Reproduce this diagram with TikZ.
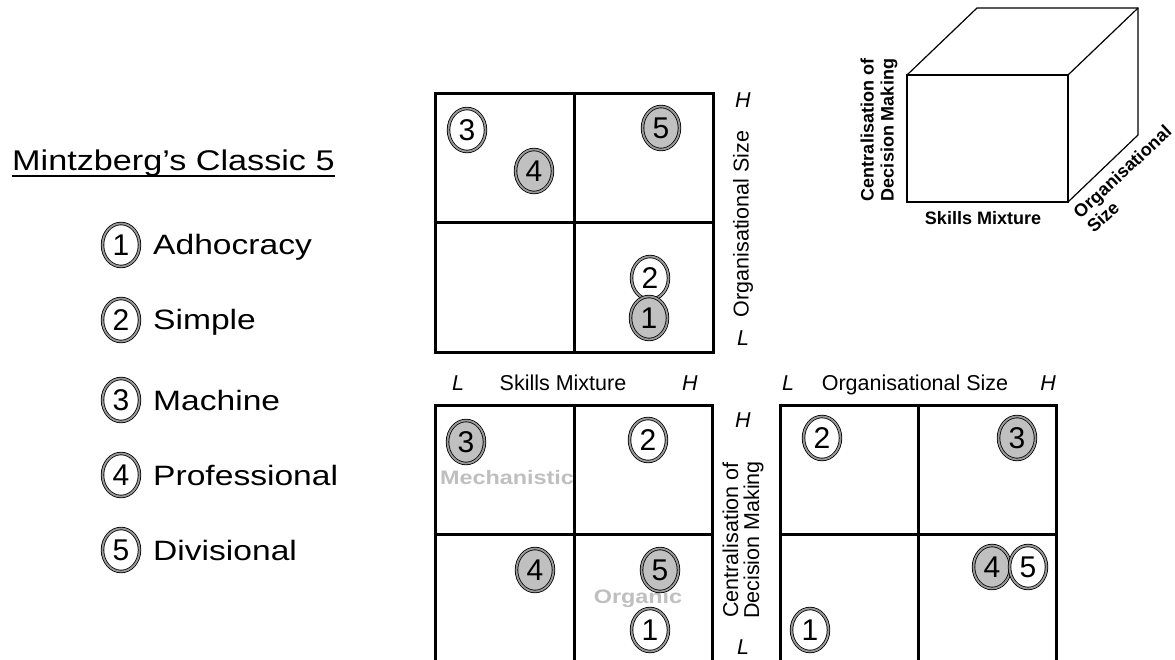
\documentclass[tikz,border=0pt]{standalone}
\usepackage{fontspec}
\setmainfont{Liberation Sans}
\newfontfamily\widefont[FakeStretch=1.2]{Liberation Sans}
\usetikzlibrary{shapes.geometric}
\definecolor{silver}{RGB}{192,192,192}
\tikzset{
 mk/.style={ellipse, draw=black, line width=0.8pt, double=black!40, double distance=1.8pt,
   minimum width=37pt, minimum height=43pt, inner sep=0pt, fill=white,
   font=\fontsize{30}{31}\selectfont},
 mkg/.style={mk, fill=silver},
 gridline/.style={line width=3pt},
 axis/.style={font=\fontsize{21.5}{21}\selectfont, inner sep=0pt, align=center},
 hl/.style={font=\fontsize{21.5}{21}\selectfont\itshape, inner sep=0pt},
 cube/.style={line width=1.2pt},
 cubelab/.style={font=\fontsize{18}{20}\selectfont\bfseries, inner sep=0pt},
 leg/.style={font=\widefont\fontsize{28}{30}\selectfont, anchor=base west, inner sep=0pt},
 emb/.style={font=\widefont\fontsize{19.5}{20}\selectfont\bfseries, text=black!25, inner sep=0pt}
}
\begin{document}
\begin{tikzpicture}[x=1pt,y=-1pt]
\useasboundingbox (0,0) rectangle (1175,660);
\clip (0,0) rectangle (1175,660);
\fill[white] (0,0) rectangle (1175,660);

% title and legend
\node[anchor=base west, inner sep=0pt, font=\widefont\fontsize{28.5}{30}\selectfont] (title) at (12,171) {Mintzberg’s Classic 5};
\draw[line width=1.3pt] ([yshift=-5pt]title.base west) -- ([yshift=-5pt]title.base east);
\node[mk] (l1) at (121,245) {1}; \node[leg] (lt1) at (153,255) {Adhocracy};
\node[mk] (l2) at (121,320) {2}; \node[leg] (lt2) at (153,330) {Simple};
\node[mk] (l3) at (121,400) {3}; \node[leg] (lt3) at (153,410) {Machine};
\node[mk] (l4) at (121,475) {4}; \node[leg] (lt4) at (153,485) {Professional};
\node[mk] (l5) at (121,550) {5}; \node[leg] (lt5) at (153,560) {Divisional};

% top grid
\draw[gridline] (435,94) rectangle (713,352);
\draw[gridline] (574,94) -- (574,352);
\draw[gridline] (435,223) -- (713,223);
\node[mk]  (t3) at (467,130) {3};
\node[mkg] (t4) at (534,171) {4};
\node[mkg] (t5) at (661,128) {5};
\node[mk]  (t2) at (650,278) {2};
\node[mkg] (t1) at (649,318) {1};
\node[hl] (tH) at (743,100) {H};
\node[axis, rotate=90] (tax) at (743,224) {Organisational Size};
\node[hl] (tL) at (743,338) {L};

% axis labels between grids
\node[hl, anchor=base] (sL) at (458,390) {L};
\node[axis, anchor=base] (sx) at (563,390) {Skills Mixture};
\node[hl, anchor=base] (sH) at (690,390) {H};
\node[hl, anchor=base] (oL) at (788,390) {L};
\node[axis, anchor=base] (ox) at (915,390) {Organisational Size};
\node[hl, anchor=base] (oH) at (1048,390) {H};

% bottom left grid
\draw[gridline] (435,405) rectangle (712,680);
\draw[gridline] (574,405) -- (574,680);
\draw[gridline] (435,534) -- (712,534);
\node[emb] (mech) at (507,478) {Mechanistic};
\node[emb] (org) at (638,598) {Organic};
\node[mkg] (b3) at (466,442) {3};
\node[mk]  (b2) at (648,440) {2};
\node[mkg] (b4) at (535,570) {4};
\node[mkg] (b5) at (660,570) {5};
\node[mk]  (b1) at (650,630) {1};
\node[hl] (cH) at (743,420) {H};
\node[axis, rotate=90] (cax) at (743,540) {Centralisation of\\Decision Making};
\node[hl] (cL) at (743,647) {L};

% bottom right grid
\draw[gridline] (780,405) rectangle (1056,680);
\draw[gridline] (918,405) -- (918,680);
\draw[gridline] (780,534) -- (1056,534);
\node[mk]  (r2) at (822,438) {2};
\node[mkg] (r3) at (1017,438) {3};
\node[mkg] (r4) at (992,567) {4};
\node[mk]  (r5) at (1028,567) {5};
\node[mk]  (r1) at (810,630) {1};

% cube
\coordinate (fa) at (907,75);
\coordinate (fb) at (1068,75);
\coordinate (fc) at (1068,202);
\coordinate (fd) at (907,202);
\coordinate (ba) at (977,8);
\coordinate (bb) at (1138,8);
\coordinate (bc) at (1138,135);
\draw[cube] (fa) -- (fb) -- (fc) -- (fd) -- cycle;
\draw[cube] (fa) -- (ba) -- (bb) -- (bc) -- (fc);
\draw[cube] (fb) -- (bb);
\node[cubelab] (cs) at (983,218) {Skills Mixture};
\node[cubelab, rotate=90, align=center] (cc) at (879,130) {Centralisation of\\Decision Making};
\node[cubelab, rotate=43, align=left] (co) at (1129,179) {Organisational\\Size};
\end{tikzpicture}
\end{document}
